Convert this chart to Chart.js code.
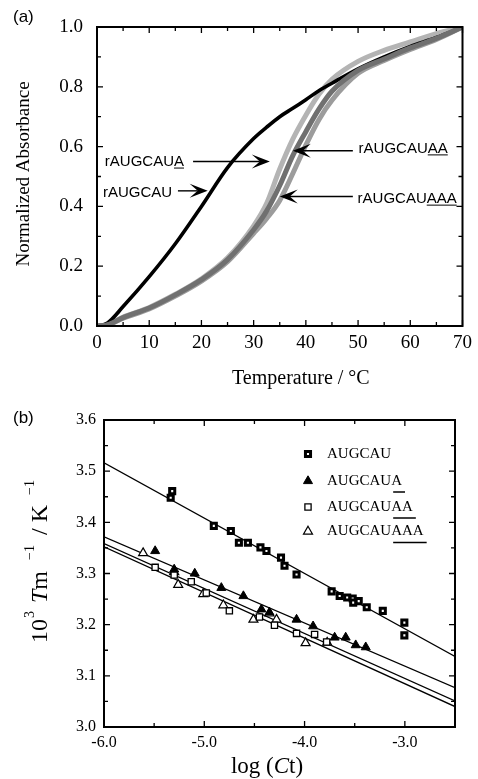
<!DOCTYPE html>
<html><head><meta charset="utf-8">
<script src="https://cdn.jsdelivr.net/npm/chart.js"></script>
<style>
html,body{margin:0;padding:0;background:#fff;width:478px;height:779px;overflow:hidden}
canvas{position:absolute;left:0;display:block}
#ca{top:0}
#cb{top:390px}
</style></head><body>
<canvas id="ca" width="478" height="390"></canvas>
<canvas id="cb" width="478" height="389"></canvas>
<script>
// ---------- Panel (a): melting curves ----------
const temperature  = [0, 2, 5, 10, 15, 20, 25, 30, 32.5, 35, 37.5, 40, 42.5, 45, 50, 55, 60, 65, 70];
const absAUGCAU    = [0, 0.01, 0.065, 0.165, 0.275, 0.40, 0.53, 0.627, 0.665, 0.70, 0.728, 0.757, 0.787, 0.812, 0.86, 0.90, 0.935, 0.965, 1.0];
const absAUGCAUA   = [0, 0.004, 0.03, 0.062, 0.106, 0.158, 0.228, 0.335, 0.41, 0.525, 0.625, 0.705, 0.775, 0.825, 0.885, 0.922, 0.95, 0.978, 1.0];
const absAUGCAUAA  = [0, 0.004, 0.028, 0.06, 0.104, 0.155, 0.222, 0.322, 0.385, 0.47, 0.57, 0.65, 0.725, 0.785, 0.855, 0.893, 0.93, 0.962, 1.0];
const absAUGCAUAAA = [0, 0.003, 0.026, 0.057, 0.1, 0.15, 0.215, 0.31, 0.36, 0.42, 0.51, 0.605, 0.69, 0.755, 0.845, 0.888, 0.925, 0.958, 1.0];
const aXTicks = [0, 10, 20, 30, 40, 50, 60, 70];
const aXMinor = [5, 15, 25, 35, 45, 55, 65];
const aYTicks = [0, 0.2, 0.4, 0.6, 0.8, 1.0];
const aYMinor = [0.1, 0.3, 0.5, 0.7, 0.9];

// ---------- Panel (b): 1/Tm vs log(Ct) ----------
const logCt_AUGCAU    = [-5.32, -5.335, -4.905, -4.735, -4.655, -4.565, -4.44, -4.38, -4.235, -4.2, -4.08, -3.73, -3.65, -3.575, -3.52, -3.515, -3.46, -3.38, -3.22, -3.005, -3.005];
const invTm_AUGCAU    = [3.461, 3.448, 3.393, 3.383, 3.360, 3.360, 3.351, 3.344, 3.331, 3.315, 3.298, 3.265, 3.256, 3.253, 3.251, 3.243, 3.246, 3.234, 3.227, 3.204, 3.179];
const logCt_AUGCAUA   = [-5.49, -5.30, -5.095, -4.83, -4.61, -4.43, -4.35, -4.08, -3.915, -3.70, -3.59, -3.49, -3.39];
const invTm_AUGCAUA   = [3.344, 3.308, 3.300, 3.272, 3.256, 3.230, 3.224, 3.210, 3.197, 3.175, 3.175, 3.160, 3.156];
const logCt_AUGCAUAA  = [-5.49, -5.30, -5.13, -4.98, -4.75, -4.45, -4.30, -4.08, -3.90, -3.78];
const invTm_AUGCAUAA  = [3.312, 3.297, 3.284, 3.262, 3.227, 3.215, 3.199, 3.183, 3.181, 3.166];
const logCt_AUGCAUAAA = [-5.61, -5.30, -5.26, -5.01, -4.81, -4.51, -4.35, -4.28, -3.99, -3.775];
const invTm_AUGCAUAAA = [3.340, 3.303, 3.278, 3.260, 3.238, 3.210, 3.222, 3.210, 3.164, 3.165];
const fitLogCt        = [-6.0, -2.5];
const fitAUGCAU       = [3.5165, 3.138];
const fitAUGCAUA      = [3.3717, 3.077];
const fitAUGCAUAA     = [3.3586, 3.051];
const fitAUGCAUAAA    = [3.352, 3.040];
const bXTicks = [-6, -5, -4, -3];
const bXMinor = [-5.5, -4.5, -3.5, -2.5];
const bYTicks = [3.0, 3.1, 3.2, 3.3, 3.4, 3.5, 3.6];
const bYMinor = [3.05, 3.15, 3.25, 3.35, 3.45, 3.55];
const legendNames = ['AUGCAU', 'AUGCAUA', 'AUGCAUAA', 'AUGCAUAAA'];
const legendUnderline = [0, 1, 2, 3];

const SERIF = '"Liberation Serif", "Times New Roman", serif';
const SANS = '"Liberation Sans", Arial, sans-serif';
const pts = (xs, ys) => xs.map((v, i) => ({x: v, y: ys[i]}));

function drawTicks(ctx, ca, xs, ys, vals, axis, len) {
  vals.forEach(v => {
    if (axis === 'x') {
      const p = xs.getPixelForValue(v);
      ctx.beginPath();
      ctx.moveTo(p, ca.bottom); ctx.lineTo(p, ca.bottom - len);
      ctx.moveTo(p, ca.top); ctx.lineTo(p, ca.top + len);
      ctx.stroke();
    } else {
      const p = ys.getPixelForValue(v);
      ctx.beginPath();
      ctx.moveTo(ca.left, p); ctx.lineTo(ca.left + len, p);
      ctx.moveTo(ca.right, p); ctx.lineTo(ca.right - len, p);
      ctx.stroke();
    }
  });
}

function arrow(ctx, x0, y0, x1, y1) {
  const dx = x1 - x0, dy = y1 - y0, L = Math.hypot(dx, dy);
  const ux = dx / L, uy = dy / L, px = -uy, py = ux;
  const hl = 18, hw = 7, notch = 10;
  ctx.lineWidth = 1.4;
  ctx.beginPath(); ctx.moveTo(x0, y0); ctx.lineTo(x1 - ux * notch, y1 - uy * notch); ctx.stroke();
  ctx.beginPath();
  ctx.moveTo(x1, y1);
  ctx.lineTo(x1 - ux * hl + px * hw, y1 - uy * hl + py * hw);
  ctx.lineTo(x1 - ux * notch, y1 - uy * notch);
  ctx.lineTo(x1 - ux * hl - px * hw, y1 - uy * hl - py * hw);
  ctx.closePath(); ctx.fill();
}

const annotationsA = [
  {text: 'rAUGCAUA',   under: 1, tx: 1.5,  ty: 0.550, from: 18.4, to: 33.1, ay: 0.550},
  {text: 'rAUGCAU',    under: 0, tx: 1.15, ty: 0.446, from: 15.5, to: 21.2, ay: 0.452},
  {text: 'rAUGCAUAA',  under: 2, tx: 50.1, ty: 0.594, from: 49.0, to: 37.5, ay: 0.586},
  {text: 'rAUGCAUAAA', under: 3, tx: 49.9, ty: 0.426, from: 49.0, to: 35.0, ay: 0.433}
];

const decoA = {
  id: 'decoA',
  afterDraw(chart) {
    const {ctx, chartArea: ca, scales: {x, y}} = chart;
    ctx.save();
    ctx.strokeStyle = '#000'; ctx.fillStyle = '#000';
    ctx.lineWidth = 1.3;
    drawTicks(ctx, ca, x, y, aXTicks, 'x', 6);
    drawTicks(ctx, ca, x, y, aXMinor, 'x', 4);
    drawTicks(ctx, ca, x, y, aYTicks, 'y', 6);
    drawTicks(ctx, ca, x, y, aYMinor, 'y', 4);
    ctx.lineWidth = 2;
    ctx.strokeRect(ca.left, ca.top, ca.right - ca.left, ca.bottom - ca.top);
    ctx.font = '15px ' + SANS;
    ctx.textBaseline = 'middle'; ctx.textAlign = 'left';
    annotationsA.forEach(a => {
      const px = x.getPixelForValue(a.tx), py = y.getPixelForValue(a.ty);
      ctx.fillText(a.text, px, py);
      if (a.under) {
        const w = ctx.measureText(a.text).width;
        const w2 = ctx.measureText('A'.repeat(a.under)).width;
        ctx.lineWidth = 1;
        ctx.beginPath(); ctx.moveTo(px + w - w2, py + 6.5); ctx.lineTo(px + w, py + 6.5); ctx.stroke();
      }
      arrow(ctx, x.getPixelForValue(a.from), y.getPixelForValue(a.ay), x.getPixelForValue(a.to), y.getPixelForValue(a.ay));
    });
    ctx.font = '17px ' + SANS;
    ctx.fillText('(a)', 13, 17);
    ctx.font = '19px ' + SERIF;
    ctx.save();
    ctx.translate(24, 174); ctx.rotate(-Math.PI / 2);
    ctx.textAlign = 'center';
    ctx.fillText('Normalized Absorbance', 0, 0);
    ctx.restore();
    ctx.font = '20px ' + SERIF;
    ctx.textAlign = 'left'; ctx.textBaseline = 'alphabetic';
    ctx.fillText('Temperature / \u00B0C', 232, 384);
    ctx.restore();
  }
};

new Chart(document.getElementById('ca'), {
  type: 'scatter',
  data: {datasets: [
    {label: 'rAUGCAUAA', data: pts(temperature, absAUGCAUAA), borderColor: '#707070', borderWidth: 5},
    {label: 'rAUGCAUAAA', data: pts(temperature, absAUGCAUAAA), borderColor: '#9c9c9c', borderWidth: 5},
    {label: 'rAUGCAU', data: pts(temperature, absAUGCAU), borderColor: '#000000', borderWidth: 3.6},
    {label: 'rAUGCAUA', data: pts(temperature, absAUGCAUA), borderColor: '#b4b4b4', borderWidth: 5}
  ].map(d => Object.assign(d, {showLine: true, pointRadius: 0, fill: false, cubicInterpolationMode: 'monotone', borderCapStyle: 'round'}))},
  options: {
    responsive: false, animation: false, devicePixelRatio: 1,
    layout: {padding: {top: 27, right: 15, left: 0, bottom: 0}},
    plugins: {legend: {display: false}, tooltip: {enabled: false}},
    scales: {
      x: {type: 'linear', min: 0, max: 70,
        afterBuildTicks: s => { s.ticks = aXTicks.map(v => ({value: v})); },
        afterFit: s => { s.height = 64; },
        grid: {display: false, drawTicks: false}, border: {display: false},
        ticks: {padding: 6, color: '#000', font: {family: SERIF, size: 19}, callback: v => String(v)}},
      y: {type: 'linear', min: 0, max: 1,
        afterBuildTicks: s => { s.ticks = aYTicks.map(v => ({value: v})); },
        afterFit: s => { s.width = 97; },
        grid: {display: false, drawTicks: false}, border: {display: false},
        ticks: {padding: 14, color: '#000', font: {family: SERIF, size: 19}, callback: v => Number(v).toFixed(1)}}
    }
  },
  plugins: [decoA]
});

// ---------- Panel (b) ----------
const markerStyles = [
  {pointStyle: 'rect', radius: 3.6, borderWidth: 3, bg: '#ffffff'},
  {pointStyle: 'triangle', radius: 5.2, borderWidth: 1, bg: '#000000'},
  {pointStyle: 'rect', radius: 4.4, borderWidth: 1.3, bg: '#ffffff'},
  {pointStyle: 'triangle', radius: 5.2, borderWidth: 1.2, bg: '#ffffff'}
];

function drawMarker(ctx, st, x, y) {
  ctx.save();
  ctx.fillStyle = st.bg; ctx.strokeStyle = '#000'; ctx.lineWidth = st.borderWidth;
  ctx.beginPath();
  if (st.pointStyle === 'rect') {
    const s = Math.SQRT1_2 * st.radius;
    ctx.rect(x - s, y - s, 2 * s, 2 * s);
  } else {
    const r = st.radius;
    ctx.moveTo(x, y - r);
    ctx.lineTo(x + r * Math.sin(2 * Math.PI / 3), y + r / 2);
    ctx.lineTo(x - r * Math.sin(2 * Math.PI / 3), y + r / 2);
    ctx.closePath();
  }
  ctx.fill(); ctx.stroke();
  ctx.restore();
}

const decoB = {
  id: 'decoB',
  afterDraw(chart) {
    const {ctx, chartArea: ca, scales: {x, y}} = chart;
    ctx.save();
    ctx.strokeStyle = '#000'; ctx.fillStyle = '#000';
    ctx.lineWidth = 1.3;
    drawTicks(ctx, ca, x, y, bXTicks, 'x', 6);
    drawTicks(ctx, ca, x, y, bXMinor, 'x', 4);
    drawTicks(ctx, ca, x, y, bYTicks, 'y', 6);
    drawTicks(ctx, ca, x, y, bYMinor, 'y', 4);
    ctx.lineWidth = 2;
    ctx.strokeRect(ca.left, ca.top, ca.right - ca.left, ca.bottom - ca.top);
    const rows = [64, 91, 117, 141.5];
    ctx.font = '15px ' + SERIF;
    ctx.textBaseline = 'middle'; ctx.textAlign = 'left';
    legendNames.forEach((n, i) => {
      drawMarker(ctx, markerStyles[i], 308, rows[i]);
      ctx.fillStyle = '#000';
      ctx.fillText(n, 327, rows[i]);
      const k = legendUnderline[i];
      if (k) {
        const w = ctx.measureText(n).width, w2 = ctx.measureText('A'.repeat(k)).width;
        ctx.lineWidth = 1.5;
        ctx.beginPath(); ctx.moveTo(327 + w - w2 + 2, rows[i] + 11); ctx.lineTo(327 + w + 3, rows[i] + 11); ctx.stroke();
      }
    });
    ctx.font = '17px ' + SANS;
    ctx.fillText('(b)', 13, 28);
    ctx.save();
    ctx.translate(47, 253); ctx.rotate(-Math.PI / 2);
    ctx.textBaseline = 'alphabetic'; ctx.textAlign = 'left';
    const big = '24px ' + SERIF, bigI = 'italic 24px ' + SERIF, sup = '14px ' + SERIF;
    ctx.font = big; ctx.fillText('10', 0, 0);
    ctx.font = sup; ctx.fillText('3', 25, -13);
    ctx.font = bigI; ctx.fillText('T', 40, 0);
    const tw = ctx.measureText('T').width;
    ctx.font = big; ctx.fillText('m', 40 + tw, 0);
    ctx.font = sup; ctx.fillText('\u22121', 83, -13);
    ctx.font = big; ctx.fillText('/ K', 108, 0);
    ctx.font = sup; ctx.fillText('\u22121', 148, -13);
    ctx.restore();
    ctx.textBaseline = 'alphabetic'; ctx.textAlign = 'left';
    const f = '23px ' + SERIF, fi = 'italic 23px ' + SERIF;
    ctx.font = f; const w1 = ctx.measureText('log (').width, w3 = ctx.measureText('t)').width;
    ctx.font = fi; const w2 = ctx.measureText('C').width;
    const sx = 267 - (w1 + w2 + w3) / 2;
    ctx.font = f; ctx.fillText('log (', sx, 383);
    ctx.font = fi; ctx.fillText('C', sx + w1, 383);
    ctx.font = f; ctx.fillText('t)', sx + w1 + w2, 383);
    ctx.restore();
  }
};

const scatterSet = (label, xs, ys, st) => ({
  label, data: pts(xs, ys), showLine: false,
  pointStyle: st.pointStyle, pointRadius: st.radius, pointBorderWidth: st.borderWidth,
  pointBackgroundColor: st.bg, pointBorderColor: '#000'
});
const fitSet = (label, ys) => ({
  label, data: pts(fitLogCt, ys), showLine: true, pointRadius: 0,
  borderColor: '#000', borderWidth: 1.3, fill: false
});

new Chart(document.getElementById('cb'), {
  type: 'scatter',
  data: {datasets: [
    scatterSet('AUGCAU', logCt_AUGCAU, invTm_AUGCAU, markerStyles[0]),
    scatterSet('AUGCAUA', logCt_AUGCAUA, invTm_AUGCAUA, markerStyles[1]),
    scatterSet('AUGCAUAA', logCt_AUGCAUAA, invTm_AUGCAUAA, markerStyles[2]),
    scatterSet('AUGCAUAAA', logCt_AUGCAUAAA, invTm_AUGCAUAAA, markerStyles[3]),
    fitSet('fit AUGCAU', fitAUGCAU),
    fitSet('fit AUGCAUA', fitAUGCAUA),
    fitSet('fit AUGCAUAA', fitAUGCAUAA),
    fitSet('fit AUGCAUAAA', fitAUGCAUAAA)
  ]},
  options: {
    responsive: false, animation: false, devicePixelRatio: 1,
    layout: {padding: {top: 30, right: 23, left: 0, bottom: 0}},
    plugins: {legend: {display: false}, tooltip: {enabled: false}},
    scales: {
      x: {type: 'linear', min: -6, max: -2.5,
        afterBuildTicks: s => { s.ticks = bXTicks.map(v => ({value: v})); },
        afterFit: s => { s.height = 52; },
        grid: {display: false, drawTicks: false}, border: {display: false},
        ticks: {padding: 6, color: '#000', font: {family: SERIF, size: 16}, callback: v => Number(v).toFixed(1)}},
      y: {type: 'linear', min: 3.0, max: 3.6,
        afterBuildTicks: s => { s.ticks = bYTicks.map(v => ({value: v})); },
        afterFit: s => { s.width = 104; },
        grid: {display: false, drawTicks: false}, border: {display: false},
        ticks: {padding: 8, color: '#000', font: {family: SERIF, size: 16}, callback: v => Number(v).toFixed(1)}}
    }
  },
  plugins: [decoB]
});
</script>
</body></html>
